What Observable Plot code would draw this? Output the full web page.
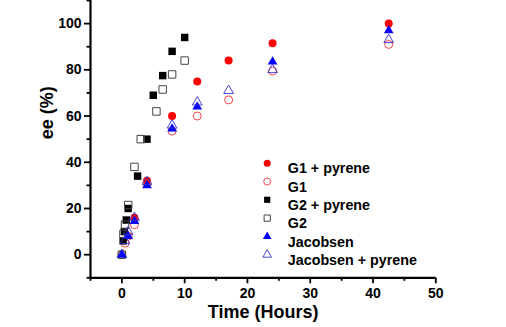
<!DOCTYPE html>
<html><head><meta charset="utf-8">
<script src="https://cdn.jsdelivr.net/npm/d3@7"></script>
<script src="https://cdn.jsdelivr.net/npm/@observablehq/plot@0.6"></script>
<style>
html,body{margin:0;padding:0;background:#fff;}
svg{display:block;}
</style>
</head><body>
<div id="chart"></div>
<script>
const seriesNames = ["G1 + pyrene", "G1", "G2 + pyrene", "G2", "Jacobsen", "Jacobsen + pyrene"];

const g1PyreneTime = [2, 4, 8, 12, 17, 24, 42.5];
const g1PyreneEE   = [16, 32, 60, 75, 84, 91.5, 100];

const g1Time = [0, 0.5, 1, 2, 4, 8, 12, 17, 24, 42.5];
const g1EE   = [0, 5, 8, 13, 31, 53.5, 60, 67, 79.5, 91];

const g2PyreneTime = [0.2, 0.4, 0.7, 1, 2.5, 4, 5, 6.5, 8, 10];
const g2PyreneEE   = [6, 10, 15, 20, 34, 50, 69, 77.5, 88, 94];

const g2Time = [0, 0.25, 0.5, 1, 2, 3, 5.5, 6.5, 8, 10];
const g2EE   = [0, 9, 13, 21.5, 38, 50, 62, 71.5, 78, 84];

const jacobsenTime = [0, 1, 2, 4, 8, 12, 24, 42.5];
const jacobsenEE   = [0, 8, 14.5, 30, 54.5, 64, 83.5, 97];

const jacPyreneTime = [0, 0.5, 1, 2, 4, 8, 12, 17, 24, 42.5];
const jacPyreneEE   = [0, 6, 10, 16, 31.5, 56, 66, 71, 80, 93];

const xMajorTicks = [0, 10, 20, 30, 40, 50];
const xMinorTicks = [-5, 5, 15, 25, 35, 45];
const yMajorTicks = [0, 20, 40, 60, 80, 100];
const yMinorTicks = [-10, 10, 30, 50, 70, 90, 110];

const styles = [
  {symbol: "circle",   r: 4.0, lr: 3.5, fill: "#ff0000", stroke: "none",    strokeWidth: 0},
  {symbol: "circle",   r: 4.0, lr: 3.5, fill: "none",    stroke: "#ee3333", strokeWidth: 0.9},
  {symbol: "square",   r: 4.2, lr: 3.5, fill: "#000000", stroke: "none",    strokeWidth: 0},
  {symbol: "square",   r: 4.2, lr: 3.5, fill: "none",    stroke: "#444444", strokeWidth: 1},
  {symbol: "triangle", r: 3.6, lr: 3.2, fill: "#0000ff", stroke: "none",    strokeWidth: 0},
  {symbol: "triangle", r: 3.6, lr: 3.2, fill: "none",    stroke: "#3333cc", strokeWidth: 0.9}
];

const seriesTimes = [g1PyreneTime, g1Time, g2PyreneTime, g2Time, jacobsenTime, jacPyreneTime];
const seriesEEs = [g1PyreneEE, g1EE, g2PyreneEE, g2EE, jacobsenEE, jacPyreneEE];

const W = 506, H = 327;
const mL = 90, mR = 70.7, mT = 0, mB = 49.7;
const font = "Liberation Sans, Arial, sans-serif";

const dotMarks = seriesNames.map((name, i) => {
  const data = seriesTimes[i].map((t, j) => ({t, ee: seriesEEs[i][j]}));
  const s = styles[i];
  return Plot.dot(data, {x: "t", y: "ee", symbol: () => s.symbol, r: s.r,
    fill: s.fill, stroke: s.stroke, strokeWidth: s.strokeWidth});
});

const legendMarks = [];
seriesNames.forEach((name, i) => {
  const s = styles[i];
  legendMarks.push(Plot.dot([name], {frameAnchor: "top-left", dx: 176.7, dy: 162.7 + i * 18.3,
    symbol: () => s.symbol, r: s.lr, fill: s.fill, stroke: s.stroke, strokeWidth: s.strokeWidth}));
  legendMarks.push(Plot.text([name], {frameAnchor: "top-left", dx: 197.3, dy: 162.7 + i * 18.3,
    text: d => d, textAnchor: "start", fontSize: 14.3, fontWeight: "bold", fill: "#000", fontFamily: font}));
});

const chart = Plot.plot({
  width: W, height: H,
  marginLeft: mL, marginRight: mR, marginTop: mT, marginBottom: mB,
  style: {fontFamily: font, background: "#fff", overflow: "visible"},
  x: {domain: [-5, 50]},
  y: {domain: [-10, 110]},
  marks: [
    Plot.axisX({ticks: xMinorTicks, tickSize: 3.5, strokeWidth: 1.8, text: null, label: null}),
    Plot.axisX({ticks: xMajorTicks, tickSize: 6, strokeWidth: 1.8, tickPadding: 4, fontSize: 14, fontWeight: "bold", fill: "#000", label: null}),
    Plot.axisY({ticks: yMinorTicks, tickSize: 3.5, strokeWidth: 1.8, text: null, label: null}),
    Plot.axisY({ticks: yMajorTicks, tickSize: 6, strokeWidth: 1.8, tickPadding: 3, fontSize: 14, fontWeight: "bold", fill: "#000", label: null}),
    Plot.ruleX([-5], {stroke: "#000", strokeWidth: 2.2}),
    Plot.ruleY([-10], {stroke: "#000", strokeWidth: 2.2}),
    ...dotMarks,
    ...legendMarks,
    Plot.text(["Time (Hours)"], {frameAnchor: "bottom", dy: 40.5, text: d => d, fontSize: 18, fontWeight: "bold", fill: "#000", lineAnchor: "bottom", fontFamily: font}),
    Plot.text(["ee (%)"], {frameAnchor: "left", dx: -38, dy: 0, rotate: -90, text: d => d, fontSize: 18, fontWeight: "bold", fill: "#000", lineAnchor: "bottom", fontFamily: font})
  ]
});
document.getElementById("chart").appendChild(chart);
</script>
</body></html>
